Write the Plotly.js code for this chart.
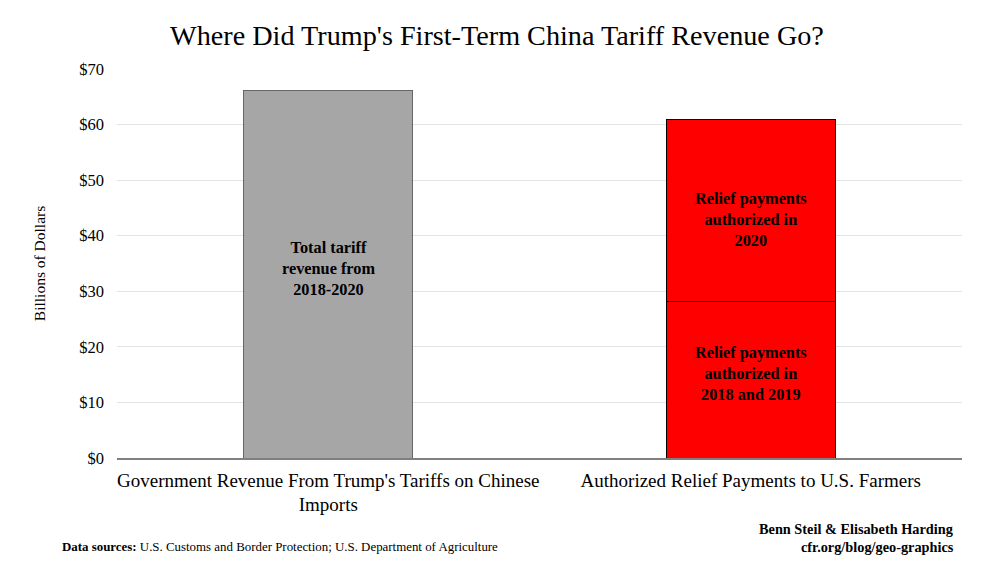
<!DOCTYPE html>
<html><head><meta charset="utf-8">
<script src="https://cdn.plot.ly/plotly-3.0.1.min.js"></script>
<style>html,body{margin:0;padding:0;background:#fff}#chart{width:1000px;height:581px}</style>
</head><body><div id="chart"></div>
<script>
const categories = ["Government Revenue From Trump's Tariffs on Chinese<br>Imports", "Authorized Relief Payments to U.S. Farmers"];
const tariffRevenue = [66.2, null];
const relief2018_2019 = [null, 28.1];
const relief2020 = [null, 32.9];
const yTickVals = [0, 10, 20, 30, 40, 50, 60, 70];
const yTickText = ["$0", "$10", "$20", "$30", "$40", "$50", "$60", "$70"];
const segmentLabels = ['<b>Total tariff<br>revenue from<br>2018-2020</b>', '<b>Relief payments<br>authorized in<br>2018 and 2019</b>', '<b>Relief payments<br>authorized in<br>2020</b>'];
const serif = "Liberation Serif, Times New Roman, serif";

const traces = [
  {type:'bar', x:categories, y:tariffRevenue, marker:{color:'#a6a6a6', line:{color:'#666666', width:1}}, hoverinfo:'skip'},
  {type:'bar', x:categories, y:relief2018_2019, marker:{color:'#ff0000', line:{color:'#000000', width:1}}, hoverinfo:'skip'},
  {type:'bar', x:categories, y:relief2020, marker:{color:'#ff0000', line:{color:'#000000', width:1}}, hoverinfo:'skip'}
];

const labelFont = {family:serif, size:16.3, color:'#000'};
const inBarAnnotations = [
  {x:categories[0], y:tariffRevenue[0]/2, yshift:6, text:segmentLabels[0]},
  {x:categories[1], y:relief2018_2019[1]/2, yshift:6, text:segmentLabels[1]},
  {x:categories[1], y:relief2018_2019[1] + relief2020[1]/2, yshift:-9, text:segmentLabels[2]}
].map(a => Object.assign({xref:'x', yref:'y', showarrow:false, font:labelFont, xanchor:'center', yanchor:'middle'}, a));

const layout = {
  width:1000, height:581, barmode:'stack', bargap:0.6, showlegend:false,
  paper_bgcolor:'#fff', plot_bgcolor:'#fff',
  margin:{l:117, r:38, t:69, b:123},
  font:{family:serif, color:'#000'},
  title:{text:"Where Did Trump's First-Term China Tariff Revenue Go?", font:{family:serif, size:28.2, color:'#000'}, x:0.497, xanchor:'center', y:0.94, yanchor:'middle'},
  xaxis:{type:'category', tickfont:{family:serif, size:19, color:'#000'}, ticklabelstandoff:4, showline:true, linecolor:'#808080', linewidth:1.8, ticks:'', showgrid:false, fixedrange:true},
  yaxis:{range:[0,70], tickvals:yTickVals, ticktext:yTickText, tickfont:{family:serif, size:16.5, color:'#000'}, ticklabelstandoff:12,
         gridcolor:'#e3e3e3', gridwidth:1, zeroline:false, ticks:''},
  annotations: inBarAnnotations.concat([
    {xref:'paper', yref:'paper', x:-0.0915, y:0.5, xanchor:'center', yanchor:'middle', showarrow:false, textangle:-90,
     text:'Billions of Dollars', font:{family:serif, size:15.5, color:'#000'}},
    {xref:'paper', yref:'paper', x:-0.0675, y:-0.229, xanchor:'left', yanchor:'middle', showarrow:false,
     text:'<b>Data sources:</b> U.S. Customs and Border Protection; U.S. Department of Agriculture', font:{family:serif, size:12.9, color:'#000'}},
    {xref:'paper', yref:'paper', x:0.993, y:-0.1825, xanchor:'right', yanchor:'middle', showarrow:false,
     text:'<b>Benn Steil &amp; Elisabeth Harding</b>', font:{family:serif, size:14.3, color:'#000'}},
    {xref:'paper', yref:'paper', x:0.993, y:-0.229, xanchor:'right', yanchor:'middle', showarrow:false,
     text:'<b>cfr.org/blog/geo-graphics</b>', font:{family:serif, size:14.3, color:'#000'}}
  ])
};
Plotly.newPlot('chart', traces, layout, {displayModeBar:false, staticPlot:true});
</script></body></html>
